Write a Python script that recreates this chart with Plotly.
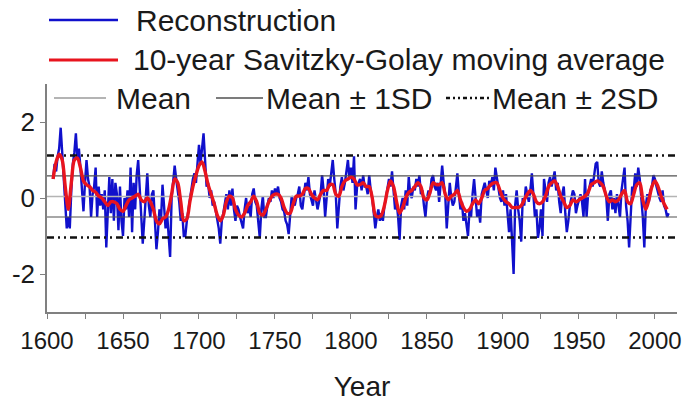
import plotly.graph_objects as go

# ---------------- data ----------------
recon_start = 1604
recon = [
    0.5, 0.9, 0.7, 1.1, 1.3, 1.85,                               # 1604-1609
    1.2, 0.6, -0.2, -0.8, -0.5, -0.8, 0.2, 0.9, 1.2, 1.7,        # 1610s
    1.0, 1.3, 0.8, 0.2, -0.35, 0.4, 1.0, 0.5, 0.3, -0.5,         # 1620s
    0.1, 0.3, 0.8, -0.5, 0.3, -0.2, 0.1, -0.3, 0.2, -1.3,        # 1630s
    -0.2, 0.55, -0.4, 0.5, -0.6, 0.4, 0.1, -0.85, 0.3, -0.6,     # 1640s
    -1.0, 0.0, -0.3, 0.2, -0.5, 0.8, -0.9, 0.4, -0.3, 0.6,       # 1650s
    1.0, 0.3, -0.4, -1.2, -0.6, 0.2, 0.65, -0.2, -0.5, 0.1,      # 1660s
    0.2, -0.6, -1.35, -0.9, -0.3, -0.6, 0.35, -0.2, -0.8, -0.4,  # 1670s
    -0.9, -1.55, 0.0, 0.5, 0.85, 0.5, 0.2, -0.1, -0.6, -0.4,     # 1680s
    -1.0, -1.0, -0.6, -0.3, 0.0, 0.2, 0.5, 0.65, 0.4, 0.9,       # 1690s
    1.4, 0.9, 1.3, 1.7, 1.0, 0.3, 0.4, 0.0, 0.2, -0.2,           # 1700s
    -0.1, -0.3, -0.5, -0.8, -1.2, -0.6, -0.4, -0.2, 0.1, -0.3,   # 1710s
    0.2, -0.2, 0.25, -0.3, -0.6, -0.2, -0.3, -0.5, -0.7, -0.8,   # 1720s
    -0.3, 0.0, -0.4, -0.2, -0.5, 0.1, 0.25, -0.1, -0.2, -0.6,    # 1730s
    -1.05, -0.3, 0.05, -0.5, -0.5, -0.2, 0.0, -0.1, 0.2, 0.0,    # 1740s
    0.25, 0.1, 0.3, 0.0, -0.1, -0.3, -0.35, -0.6, -0.7, -0.95,   # 1750s
    -0.3, 0.05, -0.1, -0.2, 0.0, 0.1, 0.3, -0.2, -0.3, 0.1,      # 1760s
    0.4, 0.2, 0.55, 0.1, -0.1, -0.2, 0.2, 0.0, -0.3, -0.1,       # 1770s
    0.1, 0.6, 0.2, -0.5, 0.1, 0.5, 0.3, 0.6, 1.0, 0.5,           # 1780s
    0.1, -0.8, -0.3, 0.3, 0.55, 0.2, 0.4, 0.7, 1.0, 0.5,         # 1790s
    0.8, 0.4, 1.1, -0.3, 0.3, 0.4, 0.5, 0.2, 0.6, 0.3,           # 1800s
    0.3, 0.1, 0.6, 0.2, 0.0, -0.4, -0.8, -0.5, -0.3, -0.6,       # 1810s
    -0.4, -0.6, -0.2, 0.0, 0.3, 0.5, 0.3, 0.7, 0.2, -0.3,        # 1820s
    -0.1, -0.5, -1.1, -0.2, 0.0, -0.3, 0.2, -0.2, 0.55, 0.1,     # 1830s
    0.0, 0.3, 0.2, 0.5, 0.3, 0.6, 0.1, 0.2, -0.2, -0.5,          # 1840s
    0.0, 0.2, 0.1, 0.5, 0.6, 0.3, 0.2, 0.4, -0.1, 0.5,           # 1850s
    0.85, 0.4, 0.1, -0.8, -0.2, 0.4, 0.0, -0.2, -0.1, 0.3,       # 1860s
    0.65, 0.1, -0.3, -0.1, -0.6, -0.4, -0.7, -1.0, -0.3, -0.5,   # 1870s
    0.1, 0.5, 0.0, -0.5, -0.3, -0.65, 0.1, 0.3, 0.4, 0.2,        # 1880s
    0.0, 0.45, 0.3, 0.55, 0.2, 0.8, 0.5, 0.3, 0.0, -0.1,         # 1890s
    0.2, -0.2, 0.1, -0.4, -0.9, -0.3, -1.0, -2.0, -0.2, 0.2,     # 1900s
    -0.3, -0.6, -1.15, 0.0, -0.2, 0.3, 0.1, -0.1, 0.2, 0.65,     # 1910s
    0.1, -0.5, -0.3, -1.05, -0.8, -0.3, -1.0, 0.5, 0.2, -0.1,    # 1920s
    0.4, 0.55, 0.3, 0.5, 0.7, 0.2, 0.4, -0.1, -0.4, 0.1,         # 1930s
    0.3, -0.4, -0.9, -0.6, -0.2, 0.0, 0.2, 0.1, -0.4, -0.2,      # 1940s
    0.0, 0.1, -0.1, -0.5, 0.5, -0.5, 0.1, 0.3, 0.5, 0.3,         # 1950s
    0.6, 0.9, 0.95, 0.4, 0.3, 0.7, 0.4, 0.2, 0.0, -0.6,          # 1960s
    0.1, 0.2, -0.3, 0.0, -0.4, 0.1, -0.2, -0.5, 0.2, 0.5,        # 1970s
    0.8, -0.2, -0.6, -1.3, -0.3, 0.3, 0.2, 0.65, 0.3, 0.8,       # 1980s
    0.5, 0.0, -0.5, -1.3, -0.2, 0.1, -0.1, 0.2, 0.3, 0.6,        # 1990s
    0.5, 0.3, 0.1, 0.0, -0.1, 0.2, -0.2, -0.3, -0.5, -0.4,       # 2000s
]
recon_years = list(range(recon_start, recon_start + len(recon)))

sg_start = 1604
sg_step = 2
sg = [
    0.5, 0.95, 1.15, 1.0, 0.3, -0.3, 0.4, 1.0, 1.05, 0.8,            # 1604-1622
    0.45, 0.35, 0.3, 0.2, 0.15, 0.05, 0.0, -0.1, -0.2, -0.1,         # 1624-1642
    -0.1, -0.15, -0.3, -0.35, -0.2, -0.05, 0.0, 0.05, 0.1, -0.05,    # 1644-1662
    -0.1, 0.0, -0.1, -0.3, -0.6, -0.68, -0.55, -0.5, -0.3, 0.1,      # 1664-1682
    0.5, 0.4, -0.1, -0.6, -0.55, -0.1, 0.3, 0.6, 0.85, 0.95,         # 1684-1702
    0.7, 0.35, 0.1, -0.15, -0.45, -0.6, -0.45, -0.1, 0.05, 0.0,      # 1704-1722
    -0.3, -0.45, -0.5, -0.4, -0.2, -0.1, 0.05, -0.1, -0.4, -0.45,    # 1724-1742
    -0.3, -0.1, 0.05, 0.1, 0.1, 0.0, -0.25, -0.4, -0.4, -0.15,       # 1744-1762
    0.05, 0.05, 0.1, 0.25, 0.25, 0.1, 0.0, -0.05, 0.1, 0.2,          # 1764-1782
    0.2, 0.35, 0.35, 0.1, 0.05, 0.3, 0.45, 0.5, 0.55, 0.5,           # 1784-1802
    0.35, 0.35, 0.4, 0.3, 0.3, 0.0, -0.45, -0.5, -0.45, -0.2,        # 1804-1822
    0.2, 0.45, 0.3, -0.1, -0.4, -0.25, 0.0, 0.15, 0.2, 0.3,          # 1824-1842
    0.4, 0.3, 0.0, -0.05, 0.15, 0.4, 0.35, 0.35, 0.4, 0.1,           # 1844-1862
    -0.05, 0.05, 0.1, 0.2, -0.05, -0.25, -0.35, -0.3, -0.15, -0.05,  # 1864-1882
    -0.15, 0.0, 0.2, 0.25, 0.35, 0.4, 0.4, 0.2, 0.0, -0.1,           # 1884-1902
    -0.15, -0.25, -0.25, -0.25, -0.2, -0.05, 0.1, 0.2, 0.1, -0.1,    # 1904-1922
    -0.15, -0.1, 0.05, 0.3, 0.4, 0.45, 0.3, 0.05, -0.1, -0.25,       # 1924-1942
    -0.2, -0.05, -0.1, -0.05, 0.0, 0.05, 0.15, 0.35, 0.4, 0.45,      # 1944-1962
    0.4, 0.3, 0.05, -0.1, -0.05, -0.1, -0.05, 0.1, 0.2, -0.1,        # 1964-1982
    -0.15, 0.1, 0.35, 0.4, -0.05, -0.3, -0.05, 0.3, 0.45, 0.3,       # 1984-2002
    0.05, -0.15, -0.3,                                               # 2004-2008
]
sg_years = [sg_start + sg_step * i for i in range(len(sg))]

mean_val = 0.04
sd_val = 0.54
x_span = [1600, 2014.5]
x_ticks = [1600, 1650, 1700, 1750, 1800, 1850, 1900, 1950, 2000]
y_ticks = [-2, 0, 2]
y_ticktext = ["-2", "0", "2"]

legend_labels = ["Reconstruction", "10-year Savitzky-Golay moving average",
                 "Mean", "Mean \u00b1 1SD", "Mean \u00b1 2SD"]

# ---------------- styles ----------------
BLUE = "#1010cc"
RED = "#e8141e"
GREY = "#b4b4b4"
DARK = "#505050"
BLACK = "#111111"
AXIS = "#808080"
FONT = "Liberation Sans, Arial, sans-serif"
DASHDOT = "7px,4px,2px,4px,2px,4px"

W, H = 695, 402
ML, MR, MT, MB = 47, 18, 84, 90
PW, PH = W - ML - MR, H - MT - MB


def px(X):
    return (X - ML) / PW


def py(Y):
    return (H - MB - Y) / PH


fig = go.Figure()

fig.add_trace(go.Scatter(x=recon_years, y=recon, mode="lines",
                         line=dict(color=BLUE, width=2.4), showlegend=False))

# mean and SD lines
fig.add_trace(go.Scatter(x=x_span, y=[mean_val, mean_val], mode="lines",
                         line=dict(color=GREY, width=1.5), showlegend=False))
for k in (1, -1):
    fig.add_trace(go.Scatter(x=x_span, y=[mean_val + k * sd_val] * 2, mode="lines",
                             line=dict(color=DARK, width=1.2), showlegend=False))
for k in (2, -2):
    fig.add_trace(go.Scatter(x=x_span, y=[mean_val + k * sd_val] * 2, mode="lines",
                             line=dict(color=BLACK, width=2.5, dash=DASHDOT),
                             showlegend=False))

fig.add_trace(go.Scatter(x=sg_years, y=sg, mode="lines",
                         line=dict(color=RED, width=3.4, shape="spline", smoothing=0.8),
                         showlegend=False))

# ---------------- hand-built legend ----------------
shapes = []
annotations = []
legend_items = [
    # (x0, x1, y, colour, width, dash, text x, label)
    (49, 118, 20, BLUE, 2.5, "solid", 134, legend_labels[0]),
    (49, 118, 60, RED, 3, "solid", 131, legend_labels[1]),
    (54, 106, 98, GREY, 2, "solid", 114, legend_labels[2]),
    (216, 263, 98, DARK, 1.5, "solid", 264, legend_labels[3]),
    (446, 489, 98, BLACK, 2.5, "4px,3px,2px,3px,2px,3px", 490, legend_labels[4]),
]
for x0, x1, yy, col, lw, dash, tx, label in legend_items:
    shapes.append(dict(type="line", xref="paper", yref="paper",
                       x0=px(x0), x1=px(x1), y0=py(yy), y1=py(yy),
                       line=dict(color=col, width=lw, dash=dash)))
    annotations.append(dict(xref="paper", yref="paper", x=px(tx), y=py(yy),
                            xanchor="left", yanchor="middle", showarrow=False,
                            text=label, font=dict(family=FONT, size=30, color="#1a1a1a")))

fig.update_layout(
    width=W, height=H,
    margin=dict(l=ML, r=MR, t=MT, b=MB, pad=0, autoexpand=False),
    paper_bgcolor="white", plot_bgcolor="white",
    showlegend=False,
    shapes=shapes, annotations=annotations,
    font=dict(family=FONT, color="#1a1a1a"),
)
fig.update_xaxes(
    automargin=False,
    range=x_span, tickvals=x_ticks, ticks="outside", ticklen=5, tickwidth=1,
    tickcolor=AXIS, showline=True, linecolor=AXIS, linewidth=1.5,
    showgrid=False, zeroline=False, ticklabelstandoff=1,
    tickfont=dict(family=FONT, size=24, color="#1a1a1a"),
    minor=dict(dtick=25, tick0=1600, ticks="outside", ticklen=5, tickcolor=AXIS, showgrid=False),
    title=dict(text="Year", font=dict(family=FONT, size=28, color="#1a1a1a"), standoff=26),
)
fig.update_yaxes(
    automargin=False,
    range=[-3, 3], tickvals=y_ticks, ticktext=y_ticktext, ticks="outside", ticklen=5,
    tickwidth=1, tickcolor=AXIS, showline=True, linecolor=AXIS, linewidth=1.5,
    showgrid=False, zeroline=False,
    tickfont=dict(family=FONT, size=26, color="#1a1a1a"),
)

fig.write_html("out.html", config={"displayModeBar": False},
               post_script="document.body.style.margin='0px';")
